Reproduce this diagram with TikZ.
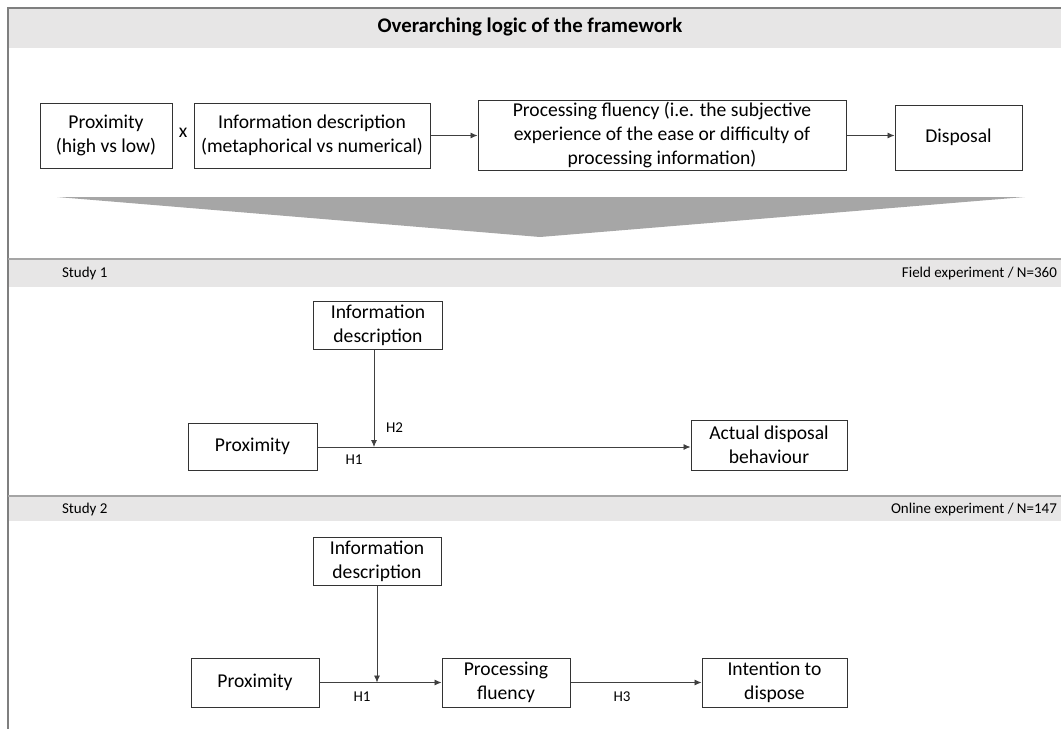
\documentclass[tikz,border=0pt]{standalone}
\usepackage{fontspec}
\setmainfont{Carlito}
\usepackage{tikz}
\usetikzlibrary{arrows.meta}

\definecolor{bandgray}{HTML}{E7E6E6}
\definecolor{funnelgray}{HTML}{A6A6A6}
\definecolor{linegray}{HTML}{7F7F7F}

\begin{document}
\begin{tikzpicture}[x=0.5pt,y=-0.5pt,>={Latex[length=3.5pt,width=3pt]}]
			\tikzstyle{every node}=[font=\fontsize{9.8}{12}\selectfont]
			\tikzstyle{box}=[draw=black!80,line width=0.5pt,align=center,inner sep=1pt]
			\tikzstyle{conn}=[->,draw=black!75,line width=0.4pt]
			\tikzstyle{small}=[font=\fontsize{7.5}{9}\selectfont]
			\useasboundingbox (0,0) rectangle (1061,729);
			
			%Rahmen und Baender
			\fill[bandgray] (8,8) rectangle (1061,48);
			\fill[bandgray] (8,260) rectangle (1061,287);
			\fill[bandgray] (8,497) rectangle (1061,521);
			\draw[linegray,line width=0.6pt] (1061,8) -- (8,8) -- (8,729);
			\draw[linegray!70,line width=0.6pt] (8,259) -- (1061,259)
			(8,496) -- (1061,496);
			\node[font=\fontsize{10.4}{12}\selectfont\bfseries] (title) at (530,27) {Overarching logic of the framework};
			\node[small,anchor=west] (s1) at (55,273) {Study 1};
			\node[small,anchor=east] (n1) at (1064,273) {Field experiment / N=360};
			\node[small,anchor=west] (s2) at (55,509) {Study 2};
			\node[small,anchor=east] (n2) at (1064,509) {Online experiment / N=147};
			
			%Logik
			\node[box,minimum width=66pt,minimum height=32.5pt] (prox0) at (106,135.5) {Proximity\\(high vs low)};
			\node (x0) at (183,133) {x};
			\node[box,minimum width=118pt,minimum height=32.5pt] (info0) at (312,135.5) {Information description\\(metaphorical vs numerical)};
			\node[box,minimum width=184pt,minimum height=32.5pt] (flu0) at (662,135.5) {Processing fluency (i.e. the subjective\\experience of the ease or difficulty of\\processing information)};
			\node[box,minimum width=63.5pt,minimum height=32.5pt] (disp0) at (958.5,137.5) {Disposal};
			\draw[conn] (info0.east) -- (info0.east -| flu0.west);
			\draw[conn] (flu0.east) -- (flu0.east -| disp0.west);
			\fill[funnelgray] (57,197) -- (1025,197) -- (540,237) -- cycle;
			
			%Studie 1
			\node[box,minimum width=64.5pt,minimum height=24pt] (info1) at (378,325) {Information\\description};
			\node[box,minimum width=64.5pt,minimum height=23.5pt] (prox1) at (252.5,446.5) {Proximity};
			\node[box,minimum width=78pt,minimum height=25pt] (act1) at (769,445) {Actual disposal\\behaviour};
			\coordinate (m1) at (374,447);
			\draw[conn] (prox1.east |- m1) -- (m1 -| act1.west);
			\draw[conn] (info1.south -| m1) -- (m1);
			\node[small,anchor=west] (h2a) at (379,428) {H2};
			\node[small] (h1a) at (354,460) {H1};
			
			%Studie 2
			\node[box,minimum width=64pt,minimum height=24pt] (info2) at (377,561) {Information\\description};
			\node[box,minimum width=64pt,minimum height=24.5pt] (prox2) at (255,682.5) {Proximity};
			\node[box,minimum width=64pt,minimum height=24.5pt] (flu2) at (506,682.5) {Processing\\fluency};
			\node[box,minimum width=72.5pt,minimum height=24.5pt] (int2) at (774.5,682.5) {Intention to\\dispose};
			\coordinate (m2) at (377,682.5);
			\draw[conn] (prox2.east) -- (flu2.west);
			\draw[conn] (info2.south) -- (m2);
			\draw[conn] (flu2.east) -- (int2.west);
			\node[small] (h1b) at (362,697) {H1};
			\node[small] (h3b) at (622,697) {H3};
			
			\end{tikzpicture}
\end{document}
